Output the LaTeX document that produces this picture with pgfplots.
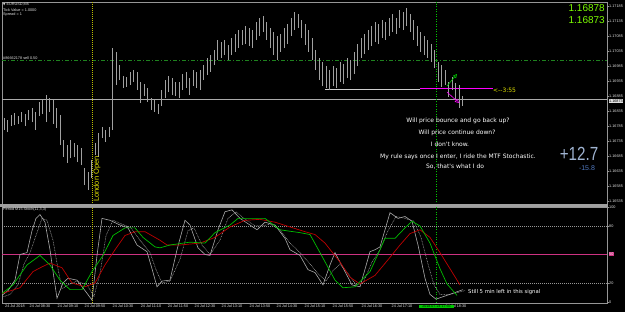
\documentclass[border=0pt]{standalone}
\usepackage{pgfplots}
\pgfplotsset{compat=1.18}
\usetikzlibrary{arrows.meta}
\usepackage{fontspec}
\setmainfont{Liberation Sans}
\newfontfamily\djv{DejaVu Sans}
\definecolor{bargray}{RGB}{160,160,160}
\definecolor{framegray}{RGB}{150,150,150}
\definecolor{scaletext}{RGB}{225,225,225}
\definecolor{limeg}{RGB}{124,252,0}
\definecolor{stgreen}{RGB}{0,190,0}
\definecolor{stred}{RGB}{190,0,0}
\definecolor{stgray}{RGB}{170,170,170}
\definecolor{magl}{RGB}{255,0,255}
\definecolor{pinkl}{RGB}{205,50,130}
\definecolor{londony}{RGB}{190,190,0}
\definecolor{ordergreen}{RGB}{30,130,30}
\definecolor{vgreen}{RGB}{0,200,0}
\definecolor{bigblue}{RGB}{160,180,210}
\definecolor{smallblue}{RGB}{80,120,190}
\definecolor{yelt}{RGB}{230,230,0}
\definecolor{palel}{RGB}{205,205,205}

\begin{document}
\begin{tikzpicture}
\fill[black] (0pt,0pt) rectangle (625pt,312pt);

% ---------------- main price panel ----------------
% y in pips above 1.1600, i.e. (price - 1.16) * 10000
\begin{axis}[at={(2pt,107pt)}, anchor=south west, scale only axis,
  width=605pt, height=203pt,
  xmin=2, xmax=607, ymin=52.2, ymax=119.8,
  axis line style={draw=framegray, line width=0.6pt},
  xtick=\empty,
  ytick={53.5,58.5,63.5,68.5,73.5,78.5,83.5,88.5,93.5,98.5,103.5,108.5,113.5,118.5},
  yticklabels={1.16535,1.16585,1.16635,1.16685,1.16735,1.16785,1.16835,1.16885,1.16935,1.16985,1.17035,1.17085,1.17135,1.17185},
  yticklabel pos=right, ytick pos=right,
  tick align=outside, major tick length=1.5pt,
  tick style={draw=framegray, line width=0.4pt},
  yticklabel style={font=\fontsize{3.8}{4}\selectfont, text=scaletext, inner sep=0.5pt},
  unbounded coords=jump]
% order level (dash-dot green)
\addplot[ordergreen, line width=0.6pt, dash pattern=on 4pt off 2pt on 1pt off 2pt] coordinates {(2,100.3) (607,100.3)};
% bid line
\addplot[stgray, line width=0.5pt] coordinates {(2,87.3) (607,87.3)};
% level line (pale part, then magenta part)
\addplot[palel, line width=0.5pt] coordinates {(325,90.9) (420,90.9)};
\addplot[magl, line width=0.6pt] coordinates {(420,90.9) (493,90.9)};
% vertical lines
\addplot[londony, line width=0.8pt, dash pattern=on 1pt off 1pt] coordinates {(92,52.2) (92,119.8)};
\addplot[vgreen, line width=0.6pt, dash pattern=on 1pt off 1.5pt] coordinates {(436,52.2) (436,119.8)};
% price bars: low and high of each M5 bar
\addplot[bargray, line width=0.7pt, mark=none] table[x=x, y=p] {
x p
4 77.2
4 81.2
4 nan
7.5 76.5
7.5 80.5
7.5 nan
11 78.5
11 82.2
11 nan
14.5 78.8
14.5 82.8
14.5 nan
18 79.2
18 81.8
18 nan
21.5 79.8
21.5 83.2
21.5 nan
25 78.5
25 82.5
25 nan
28.5 80.5
28.5 83.8
28.5 nan
32 79.8
32 84.5
32 nan
35.5 77.2
35.5 83.2
35.5 nan
39 81.8
39 86.5
39 nan
42.5 82.5
42.5 87.2
42.5 nan
46 79.8
46 88.8
46 nan
49.5 83.2
49.5 87.8
49.5 nan
53 79.2
53 87.2
53 nan
56.5 77.8
56.5 84.5
56.5 nan
60 72.2
60 82.2
60 nan
63.5 68.2
63.5 73.8
63.5 nan
67 66.2
67 72.2
67 nan
70.5 67.8
70.5 73.8
70.5 nan
74 68.2
74 72.8
74 nan
77.5 66.5
77.5 72.2
77.5 nan
81 65.5
81 71.2
81 nan
84.5 58.8
84.5 64.5
84.5 nan
88 57.2
88 63.2
88 nan
91.5 61.2
91.5 67.2
91.5 nan
95 68.8
95 72.8
95 nan
98.5 68.2
98.5 76.2
98.5 nan
102 74.5
102 78.2
102 nan
105.5 73.2
105.5 77.2
105.5 nan
109 74.8
109 78.2
109 nan
112.5 77.2
112.5 104.5
112.5 nan
116 92.2
116 103.2
116 nan
119.5 93.8
119.5 98.8
119.5 nan
123 91.2
123 95.2
123 nan
126.5 91.5
126.5 94.8
126.5 nan
130 92.2
130 96.5
130 nan
133.5 93.2
133.5 97.2
133.5 nan
137 90.5
137 96.5
137 nan
140.5 86.2
140.5 93.2
140.5 nan
144 88.5
144 92.5
144 nan
147.5 86.5
147.5 91.2
147.5 nan
151 83.8
151 87.8
151 nan
154.5 83.2
154.5 87.2
154.5 nan
158 82.5
158 85.8
158 nan
161.5 85.2
161.5 90.5
161.5 nan
165 87.8
165 93.8
165 nan
168.5 89.8
168.5 95.2
168.5 nan
172 88.8
172 94.5
172 nan
175.5 88.5
175.5 93.2
175.5 nan
179 87.8
179 93.2
179 nan
182.5 90.5
182.5 95.8
182.5 nan
186 91.2
186 96.5
186 nan
189.5 88.8
189.5 94.5
189.5 nan
193 91.8
193 97.2
193 nan
196.5 91.2
196.5 96.5
196.5 nan
200 90.5
200 97.2
200 nan
203.5 93.8
203.5 98.8
203.5 nan
207 95.5
207 101.2
207 nan
210.5 96.5
210.5 102.2
210.5 nan
214 98.8
214 103.8
214 nan
217.5 100.5
217.5 107.2
217.5 nan
221 101.2
221 106.5
221 nan
224.5 102.2
224.5 107.2
224.5 nan
228 100.5
228 105.5
228 nan
231.5 102.2
231.5 107.8
231.5 nan
235 103.2
235 109.2
235 nan
238.5 104.5
238.5 110.5
238.5 nan
242 105.5
242 110.5
242 nan
245.5 105.8
245.5 111.8
245.5 nan
249 105.2
249 111.2
249 nan
252.5 104.5
252.5 110.5
252.5 nan
256 107.2
256 113.2
256 nan
259.5 108.5
259.5 114.5
259.5 nan
263 109.8
263 115.2
263 nan
266.5 107.2
266.5 113.2
266.5 nan
270 104.5
270 111.2
270 nan
273.5 102.2
273.5 109.8
273.5 nan
277 100.5
277 108.5
277 nan
280.5 103.2
280.5 109.2
280.5 nan
284 104.5
284 111.2
284 nan
287.5 105.8
287.5 112.5
287.5 nan
291 108.5
291 114.5
291 nan
294.5 110.5
294.5 116.5
294.5 nan
298 111.2
298 115.8
298 nan
301.5 107.8
301.5 113.8
301.5 nan
305 105.5
305 112.5
305 nan
308.5 103.2
308.5 110.5
308.5 nan
312 100.5
312 107.8
312 nan
315.5 97.2
315.5 103.8
315.5 nan
319 93.8
319 101.2
319 nan
322.5 91.8
322.5 99.8
322.5 nan
326 91.2
326 98.5
326 nan
329.5 90.5
329.5 97.2
329.5 nan
333 91.8
333 98.5
333 nan
336.5 91.2
336.5 97.8
336.5 nan
340 93.2
340 99.8
340 nan
343.5 92.5
343.5 99.2
343.5 nan
347 94.5
347 101.2
347 nan
350.5 93.8
350.5 100.5
350.5 nan
354 95.8
354 103.2
354 nan
357.5 98.5
357.5 105.8
357.5 nan
361 101.2
361 107.8
361 nan
364.5 102.5
364.5 109.2
364.5 nan
368 103.8
368 110.5
368 nan
371.5 105.2
371.5 111.8
371.5 nan
375 106.5
375 113.2
375 nan
378.5 105.8
378.5 112.5
378.5 nan
382 107.8
382 113.8
382 nan
385.5 107.2
385.5 113.2
385.5 nan
389 108.5
389 114.5
389 nan
392.5 109.8
392.5 115.8
392.5 nan
396 109.2
396 114.5
396 nan
399.5 111.2
399.5 117.2
399.5 nan
403 110.5
403 116.5
403 nan
406.5 111.8
406.5 117.8
406.5 nan
410 109.8
410 115.8
410 nan
413.5 107.2
413.5 113.8
413.5 nan
417 105.2
417 111.8
417 nan
420.5 103.2
420.5 109.8
420.5 nan
424 102.2
424 108.5
424 nan
427.5 101.2
427.5 107.2
427.5 nan
431 99.8
431 105.8
431 nan
434.5 97.8
434.5 103.8
434.5 nan
438 93.2
438 99.8
438 nan
441.5 91.5
441.5 98.8
441.5 nan
445 92.2
445 97.2
445 nan
448.5 88.2
448.5 93.2
448.5 nan
452 90.5
452 94.8
452 nan
455.5 87.2
455.5 92.8
455.5 nan
459 84.5
459 92.2
459 nan
462.5 85.2
462.5 88.5
};
\end{axis}

% ---------------- stochastic panel ----------------
\begin{axis}[at={(2pt,9pt)}, anchor=south west, scale only axis,
  width=605pt, height=96pt,
  xmin=2, xmax=607, ymin=-1.05, ymax=100,
  axis line style={draw=framegray, line width=0.6pt},
  ytick={0,20,80,100}, yticklabels={0,20,80,100},
  yticklabel pos=right, ytick pos=right,
  xtick pos=bottom,
  tick align=outside, major tick length=1.5pt,
  tick style={draw=framegray, line width=0.4pt},
  yticklabel style={font=\fontsize{3.8}{4}\selectfont, text=scaletext, inner sep=0.5pt},
  xtick={15,40,68,95,123,151,178,205,232,260,287,315,343,372,402,456},
  xticklabels={24 Jul 2018,24 Jul 08:30,24 Jul 09:10,24 Jul 09:50,24 Jul 10:30,24 Jul 11:10,24 Jul 11:50,24 Jul 12:30,24 Jul 13:10,24 Jul 13:50,24 Jul 14:30,24 Jul 15:10,24 Jul 15:50,24 Jul 16:30,24 Jul 17:10,24 Jul 18:30},
  xticklabel style={font=\fontsize{3.8}{4}\selectfont, text=scaletext, inner sep=0.5pt},
  major x tick style={draw=none}]
\addplot[framegray, line width=0.4pt, dash pattern=on 0.8pt off 1.2pt] coordinates {(2,80) (607,80)};
\addplot[framegray, line width=0.4pt, dash pattern=on 0.8pt off 1.2pt] coordinates {(2,20) (607,20)};
\addplot[pinkl, line width=0.7pt] coordinates {(2,50) (607,50)};
\addplot[londony, line width=0.8pt, dash pattern=on 1pt off 1pt] coordinates {(92,-1.05) (92,100)};
\addplot[vgreen, line width=0.6pt, dash pattern=on 1pt off 1.5pt] coordinates {(436,-1.05) (436,100)};
% signal (dotted gray)
\addplot[stgray, line width=0.5pt, dash pattern=on 0.8pt off 0.8pt] coordinates {
(2,5) (10,8) (18,18) (24,40) (30,52) (36,70) (42,88) (47,86) (53,65) (58,35) (62,14) (68,18) (77,22) (87,18) (94,6) (100,30) (106,70) (113,86) (122,82) (131,78) (140,65) (150,52) (156,34) (162,20) (170,22) (180,45) (188,75) (194,78) (202,60) (210,50) (220,65) (228,88) (236,95) (244,88) (255,80) (262,80) (270,82) (280,76) (290,62) (300,52) (310,40) (318,30) (326,22) (333,33) (340,40) (348,30) (356,18) (363,20) (372,42) (380,55) (388,75) (396,90) (405,88) (414,85) (421,68) (428,40) (434,18) (440,8) (450,8) (465,12)};
% main (solid gray)
\addplot[stgray, line width=0.6pt] coordinates {
(2,7) (8,12) (15,23) (20,50) (27,52) (32,75) (36,88) (40,92) (45,84) (50,55) (54,25) (57,4) (63,20) (68,25) (77,23) (85,12) (92,2) (97,49) (102,88) (110,86) (120,81) (128,78) (137,60) (147,53) (152,35) (157,16) (162,22) (170,23) (177,55) (185,86) (190,81) (198,57) (205,50) (210,49) (218,76) (225,95) (232,97) (240,88) (250,81) (257,76) (265,84) (275,81) (285,67) (290,55) (300,49) (308,34) (315,31) (323,18) (330,39) (335,52) (345,32) (352,18) (360,16) (370,53) (375,55) (380,58) (390,94) (398,88) (405,90) (412,85) (418,60) (425,25) (430,8) (436,3) (447,7) (463,13)};
% red (MTF signal)
\addplot[stred, line width=0.7pt] coordinates {
(2,9) (20,15) (33,32) (42,37) (50,41) (62,36) (72,20) (85,16) (95,20) (105,39) (115,55) (125,70) (135,74) (145,74) (160,65) (167,60) (180,60) (200,62) (215,68) (230,79) (245,86) (260,87) (275,84) (290,79) (305,74) (315,71) (325,62) (340,42) (350,26) (360,19) (375,28) (390,47) (400,60) (410,72) (420,76) (430,68) (440,52) (450,35) (460,18)};
% green (MTF main)
\addplot[stgreen, line width=0.7pt] coordinates {
(2,9) (13,18) (27,39) (40,49) (50,39) (60,23) (70,13) (82,13) (92,32) (103,49) (113,70) (125,78) (135,78) (143,68) (155,58) (160,57) (170,60) (190,63) (205,62) (215,73) (230,81) (238,88) (255,88) (265,88) (280,76) (300,73) (310,71) (320,52) (335,23) (343,15) (355,16) (370,32) (380,55) (385,67) (395,67) (405,78) (412,85) (420,80) (430,62) (440,35) (447,19) (457,7)};
\end{axis}

\begin{scope}[x=1pt,y=1pt]
% separator between panels
\fill[framegray!90!white] (0,104.5) rectangle (607.5,107.5);

% scale extras
\node[fill=scaletext, text=black, font=\fontsize{3.8}{4}\selectfont, inner sep=0.4pt, anchor=west] at (608.5,211) {1.16873};
\node[fill=pinkl, text=white, font=\fontsize{3.8}{4}\selectfont, inner sep=0.5pt, anchor=west] at (608.5,58) {50};
% time-axis box for selected vertical line
\node[fill=vgreen, text=black, font=\fontsize{3.6}{4}\selectfont, inner sep=0.6pt, minimum width=35pt] at (436.5,5.5) {2018.07.24 17:55};

% header texts
\node[anchor=west, text=scaletext, font=\fontsize{3.8}{4}\selectfont, inner sep=0] at (3,308) {{\djv\fontsize{3}{3}\selectfont ▼} EURUSD,M5};
\node[anchor=west, text=scaletext, font=\fontsize{3.8}{4}\selectfont, inner sep=0] at (3,302) {Tick Value = 1.0000};
\node[anchor=west, text=scaletext, font=\fontsize{3.8}{4}\selectfont, inner sep=0] at (3,297) {Spread = 1};
\node[anchor=west, text=scaletext, font=\fontsize{3.8}{4}\selectfont, inner sep=0] at (3,254) {\#86662178 sell 0.50};
\node[anchor=west, text=scaletext, font=\fontsize{3.8}{4}\selectfont, inner sep=0] at (3,102) {Period M15 Stoch(11,3,3)};

% London Open label
\node[rotate=90, anchor=west, text=yelt, font=\fontsize{7.5}{8}\selectfont, inner sep=0] at (97,110) {London Open};

% big price labels
\node[anchor=east, text=limeg, font=\fontsize{10}{10}\selectfont, inner sep=0] at (605,304) {1.16878};
\node[anchor=east, text=limeg, font=\fontsize{10}{10}\selectfont, inner sep=0] at (605,292) {1.16873};
\node[text=bigblue, font=\fontsize{19}{19}\selectfont, inner sep=0, xscale=0.8] at (579,158) {+12.7};
\node[text=smallblue, font=\fontsize{7}{7}\selectfont, inner sep=0] at (587,144) {-15.8};

% yellow countdown
\node[anchor=west, text=yelt, font=\djv\fontsize{6}{6}\selectfont, inner sep=0] at (493,222) {<--3:55};

% arrows
\draw[vgreen, line width=0.6pt, -{Triangle[open, length=4pt, width=4pt]}] (447,226) -- (457,238);
\draw[magl, line width=0.6pt, -{Triangle[open, length=4pt, width=4pt]}] (447,220) -- (459,209);

% commentary
\begin{scope}[every node/.style={text=white, font=\djv\fontsize{6}{6}\selectfont, inner sep=0}]
\node at (458,191) {Will price bounce and go back up?};
\node at (457,179) {Will price continue down?};
\node at (450,168) {I don't know.};
\node at (458,155) {My rule says once I enter, I ride the MTF Stochastic.};
\node at (455,145) {So, that's what I do};
\node[anchor=west, font=\djv\fontsize{5.3}{5.3}\selectfont] at (468,20) {Still 5 min left in this signal};
\end{scope}
\end{scope}
\pgfresetboundingbox
\useasboundingbox (0pt,0pt) rectangle (625pt,312pt);
\end{tikzpicture}
\end{document}
